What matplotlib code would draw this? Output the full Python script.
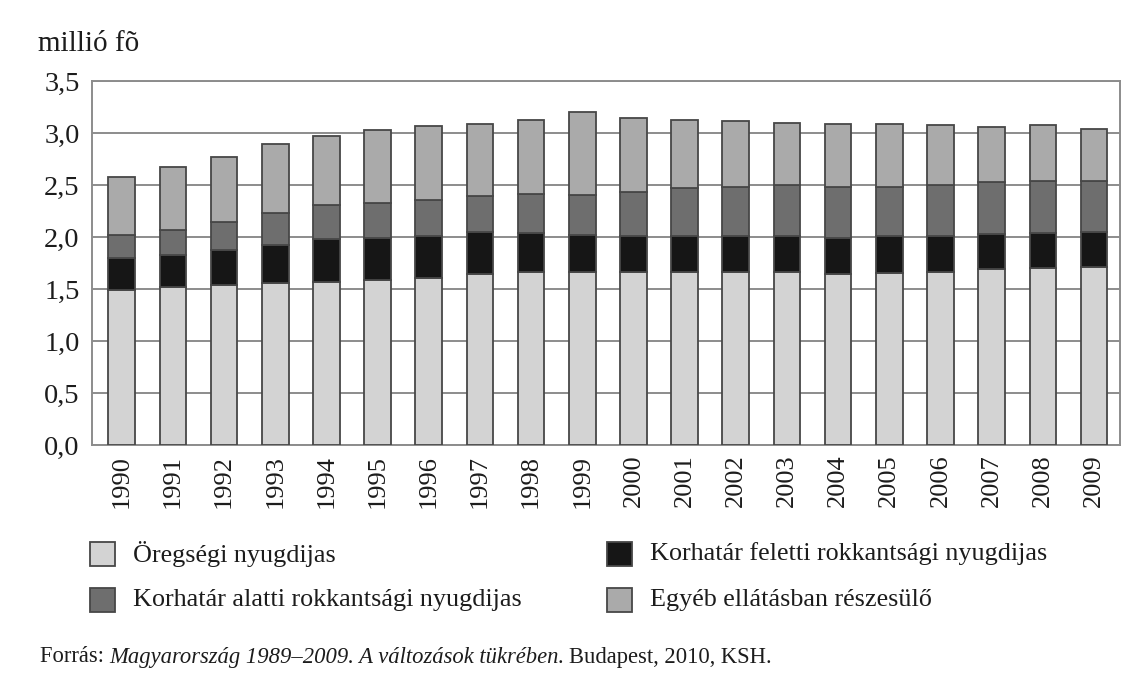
import matplotlib.pyplot as plt
from matplotlib.patches import Rectangle
import numpy as np

plt.rcParams['font.family'] = ['Liberation Serif', 'DejaVu Serif']

years = [str(y) for y in range(1990, 2010)]

# million persons by benefit type
oregsegi = [1.49, 1.52, 1.54, 1.56, 1.57, 1.59, 1.61, 1.65, 1.67, 1.67,
            1.67, 1.67, 1.67, 1.67, 1.65, 1.66, 1.67, 1.69, 1.70, 1.71]
korhatar_feletti = [0.31, 0.31, 0.34, 0.37, 0.41, 0.40, 0.40, 0.40, 0.37, 0.35,
                    0.34, 0.34, 0.34, 0.34, 0.34, 0.35, 0.34, 0.34, 0.34, 0.34]
korhatar_alatti = [0.22, 0.24, 0.27, 0.30, 0.33, 0.34, 0.35, 0.35, 0.38, 0.39,
                   0.43, 0.46, 0.47, 0.49, 0.49, 0.47, 0.49, 0.50, 0.50, 0.49]
egyeb = [0.56, 0.61, 0.62, 0.67, 0.67, 0.70, 0.71, 0.69, 0.71, 0.80,
         0.71, 0.66, 0.64, 0.60, 0.61, 0.61, 0.58, 0.53, 0.54, 0.50]

labels = ['Öregségi nyugdijas', 'Korhatár feletti rokkantsági nyugdijas',
          'Korhatár alatti rokkantsági nyugdijas', 'Egyéb ellátásban részesülő']
colors = ['#d3d3d3', '#161616', '#6e6e6e', '#aaaaaa']
yticks = [0.0, 0.5, 1.0, 1.5, 2.0, 2.5, 3.0, 3.5]

text_color = '#1c1c1c'
edge = '#474747'

fig = plt.figure(figsize=(11.36, 6.82), dpi=100)
ax = fig.add_axes([0.081, 0.3475, 0.905, 0.533])

x = np.arange(len(years))
bottom = np.zeros(len(years))
for vals, col in zip([oregsegi, korhatar_feletti, korhatar_alatti, egyeb], colors):
    ax.bar(x, vals, width=0.52, bottom=bottom, color=col, edgecolor=edge,
           linewidth=1.3, zorder=3)
    bottom += np.array(vals)

ax.set_xlim(-0.58, 19.51)
ax.set_ylim(0, 3.5)
ax.set_yticks(yticks)
ax.set_yticklabels([f'{v:.1f}'.replace('.', ',') for v in yticks],
                   fontsize=20.5, color=text_color)
ax.set_xticks(x)
ax.set_xticklabels(years, rotation=90, fontsize=19, color=text_color)
ax.tick_params(length=0, pad=7)
ax.tick_params(axis='y', pad=9)

ax.grid(axis='y', color='#8c8c8c', linewidth=1.4, zorder=0)
for s in ax.spines.values():
    s.set_color('#8c8c8c')
    s.set_linewidth(1.4)

fig.text(38 / 1136, 1 - 44 / 682, 'millió fõ', fontsize=21, color=text_color,
         va='center', ha='left')

# legend: two columns, two rows
pos = [(90, 554), (607, 554), (90, 600), (607, 600)]
for (px, py), lab, col in zip(pos, labels, colors):
    fig.add_artist(Rectangle((px / 1136, 1 - (py + 12) / 682), 25 / 1136, 24 / 682,
                             transform=fig.transFigure, facecolor=col,
                             edgecolor=edge, linewidth=1.3))
    fig.text((px + 43) / 1136, 1 - py / 682, lab, fontsize=18.8,
             color=text_color, va='center', ha='left')

src = fig.text(40 / 1136, 1 - 657 / 682, 'Forrás: ', fontsize=16.3,
               color=text_color, va='center', ha='left')
fig.canvas.draw()
r = fig.canvas.get_renderer()
bb = src.get_window_extent(r)
t2 = fig.text(bb.x1 / 1136, 1 - 657 / 682,
              'Magyarország 1989–2009. A változások tükrében.', fontsize=16.3,
              style='italic', color=text_color, va='center', ha='left')
bb2 = t2.get_window_extent(r)
fig.text(bb2.x1 / 1136 + 0.004, 1 - 657 / 682, 'Budapest, 2010, KSH.',
         fontsize=16.3, color=text_color, va='center', ha='left')

fig.savefig('out.png', dpi=100)
